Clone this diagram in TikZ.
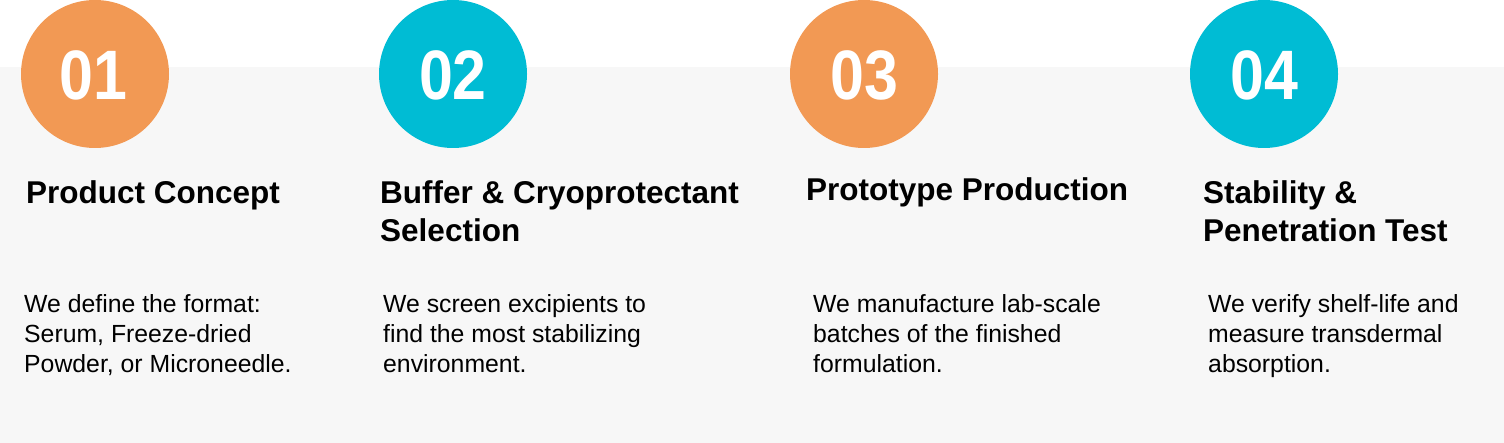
\documentclass[tikz,border=0pt]{standalone}
\usepackage{fontspec}
\setmainfont{Liberation Sans}
\definecolor{stepor}{HTML}{F29954}
\definecolor{stepcy}{HTML}{00BCD4}
\definecolor{band}{HTML}{F7F7F7}
\tikzset{
  numcircle/.style={circle, minimum size=148pt, inner sep=0pt},
  numtext/.style={text=white, font=\bfseries\fontsize{70}{70}\selectfont},
  titletext/.style={anchor=base west, inner sep=0pt, align=left, font=\bfseries\fontsize{31.5}{38}\selectfont},
  bodytext/.style={anchor=base west, inner sep=0pt, align=left, font=\fontsize{24.8}{30}\selectfont}
}
\begin{document}
\begin{tikzpicture}[x=1pt,y=-1pt]
\useasboundingbox (0,0) rectangle (1504,443);
\fill[white] (0,0) rectangle (1504,443);
\fill[band] (0,67) rectangle (1504,443);
% circles
\node[numcircle, fill=stepor] (c1) at (95,74) {};
\node[numcircle, fill=stepcy] (c2) at (453,74) {};
\node[numcircle, fill=stepor] (c3) at (864,74) {};
\node[numcircle, fill=stepcy] (c4) at (1264,74) {};
\node[numtext, anchor=base] (n1) at (93.5,100) {\scalebox{0.87}[1]{01}};
\node[numtext, anchor=base] (n2) at (453,100) {\scalebox{0.87}[1]{02}};
\node[numtext, anchor=base] (n3) at (864,100) {\scalebox{0.87}[1]{03}};
\node[numtext, anchor=base] (n4) at (1264,100) {\scalebox{0.87}[1]{04}};
% titles (base anchor = baseline of last line)
\node[titletext] (t1) at (26,204) {Product Concept};
\node[titletext] (t2) at (380,242) {Buffer \& Cryoprotectant\\Selection};
\node[titletext] (t3) at (806,201) {Prototype Production};
\node[titletext] (t4) at (1203,242) {Stability \&\\Penetration Test};
% bodies
\node[bodytext] (b1) at (24,373) {We define the format:\\Serum, Freeze-dried\\Powder, or Microneedle.};
\node[bodytext] (b2) at (383,373) {We screen excipients to\\find the most stabilizing\\environment.};
\node[bodytext] (b3) at (813,373) {We manufacture lab-scale\\batches of the finished\\formulation.};
\node[bodytext] (b4) at (1208,373) {We verify shelf-life and\\measure transdermal\\absorption.};
\end{tikzpicture}
\end{document}
